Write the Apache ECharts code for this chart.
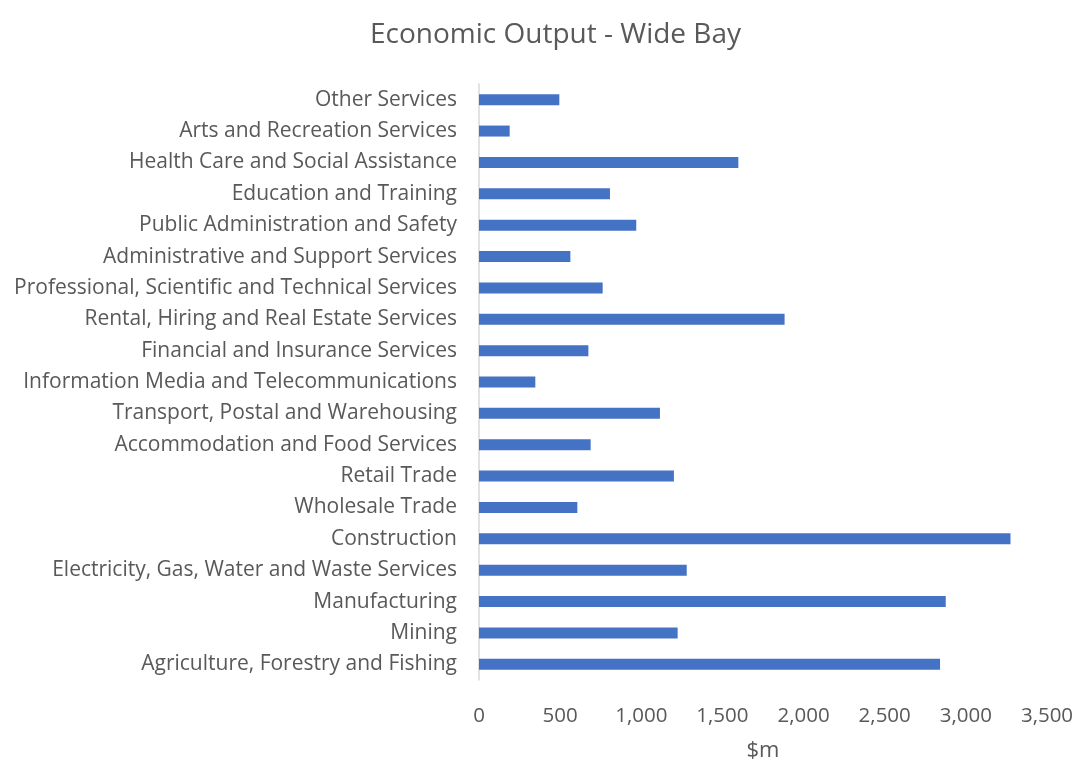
<!DOCTYPE html>
<html><head><meta charset="utf-8">
<script src="https://cdn.jsdelivr.net/npm/echarts@6/dist/echarts.min.js"></script>
<style>html,body{margin:0;padding:0;background:#fff}#c{width:1079px;height:760px}</style>
</head><body><div id="c"></div>
<script>
const categories = ["Agriculture, Forestry and Fishing","Mining","Manufacturing","Electricity, Gas, Water and Waste Services","Construction","Wholesale Trade","Retail Trade","Accommodation and Food Services","Transport, Postal and Warehousing","Information Media and Telecommunications","Financial and Insurance Services","Rental, Hiring and Real Estate Services","Professional, Scientific and Technical Services","Administrative and Support Services","Public Administration and Safety","Education and Training","Health Care and Social Assistance","Arts and Recreation Services","Other Services"];
const values = [2841,1224,2876,1280,3275,606,1201,688,1115,347,674,1883,762,563,969,807,1598,189,495];
const titleText = "Economic Output - Wide Bay";
const axisName = "$m";
const chart = echarts.init(document.getElementById('c'));
const font = "'Open Sans', sans-serif";
chart.setOption({
  animation:false,
  title:{text:titleText,left:365,top:16,textStyle:{fontFamily:font,fontSize:28,fontWeight:'normal',color:'#595959'}},
  grid:{left:479,right:32,top:84,bottom:80,containLabel:false,outerBoundsMode:'none'},
  xAxis:{type:'value',min:0,max:3500,interval:500,
    name:axisName,nameLocation:'middle',nameGap:60,
    nameTextStyle:{fontFamily:font,fontSize:22,color:'#595959'},
    axisLine:{show:false},axisTick:{show:false},splitLine:{show:false},
    axisLabel:{fontFamily:font,fontSize:20.5,color:'#595959',margin:26,
      formatter:v=>v.toLocaleString('en-US')}},
  yAxis:{type:'category',data:categories,
    axisLine:{show:true,lineStyle:{color:'#d9d9d9',width:1.5}},axisTick:{show:false},
    axisLabel:{fontFamily:font,fontSize:21,color:'#595959',margin:22}},
  series:[{type:'bar',data:values,barWidth:11,itemStyle:{color:'#4472C4'}}]
});
</script></body></html>
